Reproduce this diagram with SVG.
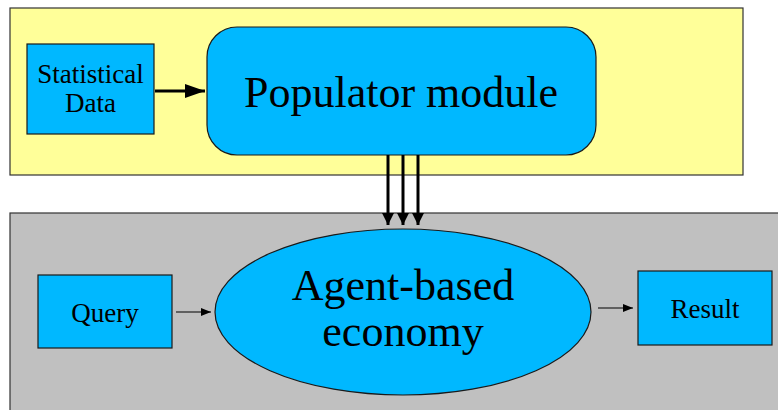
<svg xmlns="http://www.w3.org/2000/svg" width="778" height="410" viewBox="0 0 778 410">
  <defs>
    <style>
      .box { fill: #00b8ff; stroke: #1a1a1a; stroke-width: 1.2; }
      .lbl { font-family: "Liberation Serif", "Times New Roman", serif; fill: #000; text-anchor: middle; }
      .small { font-size: 27px; }
      .big { font-size: 44px; }
      .thin { stroke: #000; stroke-width: 1.2; fill: none; }
      .thick { stroke: #000; stroke-width: 3; fill: none; }
    </style>
    <marker id="headSmall" viewBox="0 0 10 8" refX="10" refY="4" markerWidth="10" markerHeight="8" markerUnits="userSpaceOnUse" orient="auto">
      <path d="M0,0 L10,4 L0,8 Z" fill="#000"/>
    </marker>
    <marker id="headBig" viewBox="0 0 20 14" refX="20" refY="7" markerWidth="20" markerHeight="14" markerUnits="userSpaceOnUse" orient="auto">
      <path d="M0,0 L20,7 L0,14 Z" fill="#000"/>
    </marker>
    <marker id="headDown" viewBox="0 0 12 12" refX="12" refY="6" markerWidth="12" markerHeight="12" markerUnits="userSpaceOnUse" orient="auto">
      <path d="M0,0 L12,6 L0,12 Z" fill="#000"/>
    </marker>
  </defs>

  <rect width="778" height="410" fill="#fff"/>

  <!-- upper panel -->
  <rect id="populator-panel" x="10" y="8" width="733" height="167" fill="#ffff99" stroke="#333" stroke-width="1.2"/>
  <!-- lower panel -->
  <rect id="economy-panel" x="10" y="213" width="775" height="205" fill="#c0c0c0" stroke="#333" stroke-width="1.2"/>

  <g id="statistical-data">
    <rect class="box" x="27" y="44" width="127" height="90"/>
    <text class="lbl small" x="90.5" y="83">Statistical</text>
    <text class="lbl small" x="90.5" y="112">Data</text>
  </g>

  <g id="populator-module">
    <rect class="box" x="207" y="27" width="389" height="128" rx="30" ry="30"/>
    <text class="lbl big" x="401" y="107">Populator module</text>
  </g>

  <g id="agent-economy">
    <ellipse class="box" cx="403" cy="312" rx="188" ry="83"/>
    <text class="lbl big" x="403" y="300">Agent-based</text>
    <text class="lbl big" x="403" y="346">economy</text>
  </g>

  <g id="query">
    <rect class="box" x="38" y="275" width="134" height="73"/>
    <text class="lbl small" x="105" y="322">Query</text>
  </g>

  <g id="result">
    <rect class="box" x="638" y="271" width="134" height="74"/>
    <text class="lbl small" x="705" y="318">Result</text>
  </g>

  <g id="connectors">
    <line class="thick" x1="155" y1="91" x2="205" y2="91" marker-end="url(#headBig)"/>
    <line class="thick" x1="388" y1="155" x2="388" y2="225" marker-end="url(#headDown)"/>
    <line class="thick" x1="403" y1="155" x2="403" y2="225" marker-end="url(#headDown)"/>
    <line class="thick" x1="418" y1="155" x2="418" y2="225" marker-end="url(#headDown)"/>
    <line class="thin" x1="176" y1="312" x2="211" y2="312" marker-end="url(#headSmall)"/>
    <line class="thin" x1="598" y1="308" x2="633" y2="308" marker-end="url(#headSmall)"/>
  </g>
</svg>
